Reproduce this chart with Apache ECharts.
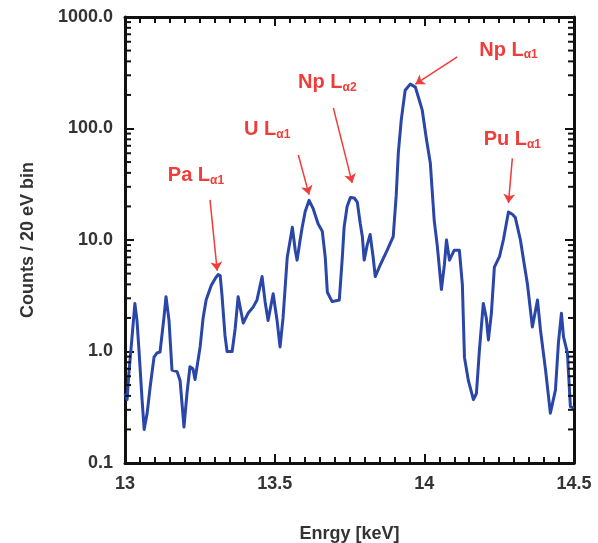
<!DOCTYPE html>
<html>
<head>
<meta charset="utf-8">
<script src="https://cdn.jsdelivr.net/npm/echarts@6/dist/echarts.min.js"></script>
<style>
  html, body { margin: 0; padding: 0; background: #fff; }
  #chart { width: 598px; height: 543px; }
</style>
</head>
<body>
<div id="chart"></div>
<script>
// Energy (keV) and counts per 20 eV bin of the L-line spectrum
const energy = [
  13.000, 13.007, 13.013, 13.023, 13.033, 13.040, 13.047, 13.057, 13.064, 13.074,
  13.084, 13.097, 13.107, 13.117, 13.130, 13.137, 13.147, 13.157, 13.174, 13.184,
  13.197, 13.207, 13.217, 13.227, 13.234, 13.251, 13.261, 13.271, 13.288, 13.301,
  13.311, 13.318, 13.324, 13.334, 13.341, 13.358, 13.368, 13.378, 13.395, 13.411,
  13.428, 13.441, 13.458, 13.468, 13.478, 13.495, 13.508, 13.518, 13.528, 13.542,
  13.552, 13.559, 13.569, 13.575, 13.585, 13.592, 13.602, 13.615, 13.629, 13.645,
  13.659, 13.669, 13.676, 13.692, 13.716, 13.726, 13.732, 13.742, 13.753, 13.766,
  13.776, 13.786, 13.793, 13.799, 13.809, 13.819, 13.829, 13.836, 13.853, 13.876,
  13.896, 13.906, 13.913, 13.923, 13.936, 13.953, 13.970, 13.983, 13.993, 14.007,
  14.020, 14.033, 14.043, 14.050, 14.057, 14.067, 14.074, 14.084, 14.100, 14.117,
  14.127, 14.134, 14.147, 14.164, 14.174, 14.184, 14.197, 14.207, 14.214, 14.224,
  14.234, 14.251, 14.264, 14.281, 14.294, 14.304, 14.321, 14.334, 14.344, 14.361,
  14.378, 14.388, 14.405, 14.421, 14.438, 14.448, 14.458, 14.465, 14.478, 14.488,
  14.500
];
const counts = [
  0.42, 0.37, 0.64, 1.3, 2.7, 1.9, 1.0, 0.37, 0.20, 0.28,
  0.48, 0.89, 0.97, 0.99, 2.0, 3.1, 1.9, 0.68, 0.66, 0.55,
  0.21, 0.42, 0.73, 0.70, 0.56, 1.1, 2.0, 2.9, 3.9, 4.5,
  4.9, 4.8, 3.2, 1.4, 1.0, 1.0, 1.6, 3.1, 1.8, 2.2,
  2.5, 2.9, 4.7, 2.8, 1.9, 3.3, 1.9, 1.1, 2.0, 7.0,
  10, 13, 8, 6.6, 10, 13, 18, 22.7, 19, 14,
  12, 7, 3.4, 2.8, 2.9, 7, 13, 20, 24, 23.8,
  21.9, 14, 10.7, 6.6, 9, 11.2, 7, 4.7, 6, 8.1,
  10.7, 25, 60, 120, 220, 250, 235, 180, 146, 80,
  49, 15, 9, 5.7, 3.6, 6, 10, 6.6, 8.1, 8.1,
  4, 0.89, 0.55, 0.37, 0.42, 1.03, 2.7, 2.0, 1.27, 2.2,
  5.7, 7.1, 10, 17.8, 17, 15.9, 10, 6, 4.1, 1.66,
  2.9, 1.56, 0.68, 0.28, 0.45, 1.2, 2.2, 1.35, 0.97, 0.32,
  0.31
];

// Peak annotations: element, line, label anchor [keV, counts], arrow tail and head
const peakNames = ['Pa', 'U', 'Np', 'Np', 'Pu'];
const peakLines = ['α1', 'α1', 'α2', 'α1', 'α1'];
const labelAt = [[13.237, 38], [13.475, 97], [13.676, 256], [14.281, 506], [14.294, 79]];
const arrowFrom = [[13.284, 22.9], [13.579, 57.9], [13.696, 153], [14.110, 438], [14.294, 54]];
const arrowTo = [[13.308, 5.3], [13.615, 25.5], [13.759, 32.5], [13.970, 250], [14.281, 21.5]];

// Axis ticks
const xMin = 13, xMax = 14.5, xStep = 0.5;
const yMin = 0.1, yMax = 1000;
const yLabels = { 0.1: '0.1', 1: '1.0', 10: '10.0', 100: '100.0', 1000: '1000.0' };

const FONT = 'Liberation Sans, Arial, Helvetica, sans-serif';
const RED = '#f03c3a';
const BLUE = '#2a46a8';
const AXIS = '#111';
const TEXT = '#333';

// log-decade minor tick values (2..9 within each decade)
const minorVals = [];
for (let d = yMin; d < yMax; d *= 10) {
  for (let k = 2; k <= 9; k++) minorVals.push(+(d * k).toPrecision(3));
}

const spectrum = energy.map((e, i) => [e, counts[i]]);

function xAxisBase() {
  return {
    type: 'value', min: xMin, max: xMax, interval: xStep,
    axisLine: { show: true, onZero: false, lineStyle: { color: AXIS, width: 3 } },
    axisTick: { show: true, inside: true, length: 9, lineStyle: { color: AXIS, width: 2 } },
    minorTick: { show: true, splitNumber: 10, length: 6, lineStyle: { color: AXIS, width: 2 } },
    splitLine: { show: false }
  };
}
function yAxisBase() {
  return {
    type: 'log', logBase: 10, min: yMin, max: yMax,
    axisLine: { show: true, onZero: false, lineStyle: { color: AXIS, width: 3 } },
    axisTick: { show: true, inside: true, length: 9, lineStyle: { color: AXIS, width: 2 } },
    splitLine: { show: false }
  };
}

const chart = echarts.init(document.getElementById('chart'));

chart.setOption({
  animation: false,
  backgroundColor: '#fff',
  grid: { left: 125, top: 17, right: 24, bottom: 80, containLabel: false, outerBoundsMode: 'none' },
  xAxis: [
    Object.assign(xAxisBase(), {
      position: 'bottom',
      name: 'Enrgy [keV]', nameLocation: 'middle', nameGap: 62,
      nameTextStyle: { fontFamily: FONT, fontWeight: 'bold', fontSize: 18, color: TEXT },
      axisLabel: {
        margin: 12, fontFamily: FONT, fontWeight: 'bold', fontSize: 18, color: TEXT,
        formatter: v => String(+v.toFixed(1))
      }
    }),
    Object.assign(xAxisBase(), { position: 'top', axisLabel: { show: false } })
  ],
  yAxis: [
    Object.assign(yAxisBase(), {
      position: 'left',
      name: 'Counts / 20 eV bin', nameLocation: 'middle', nameGap: 88,
      nameTextStyle: { fontFamily: FONT, fontWeight: 'bold', fontSize: 18, color: TEXT },
      axisLabel: {
        margin: 12, fontFamily: FONT, fontWeight: 'bold', fontSize: 18, color: TEXT,
        formatter: v => yLabels[+v.toPrecision(3)] || ''
      }
    }),
    Object.assign(yAxisBase(), { position: 'right', axisLabel: { show: false } })
  ],
  series: [
    {
      type: 'line',
      data: spectrum,
      showSymbol: false,
      smooth: false,
      lineStyle: { color: BLUE, width: 3, join: 'round' },
      z: 3,
      markLine: {
        silent: true,
        symbol: ['none', 'arrow'],
        symbolSize: [9, 9],
        label: { show: false },
        lineStyle: { color: RED, width: 1.5, type: 'solid' },
        data: arrowFrom.map((a, i) => [{ coord: a }, { coord: arrowTo[i] }])
      },
      markPoint: {
        silent: true,
        symbol: 'circle',
        symbolSize: 0,
        itemStyle: { color: 'rgba(0,0,0,0)' },
        label: {
          show: true, position: 'inside',
          rich: {
            m: { fontFamily: FONT, fontWeight: 'bold', fontSize: 20, color: RED, lineHeight: 22 },
            s: { fontFamily: FONT, fontWeight: 'bold', fontSize: 12, color: RED, lineHeight: 12, verticalAlign: 'bottom' }
          }
        },
        data: labelAt.map((c, i) => ({
          coord: c,
          label: { formatter: '{m|' + peakNames[i] + ' L}{s|' + peakLines[i] + '}' }
        }))
      }
    },
    {
      // logarithmic minor ticks on the left and right frame
      type: 'custom',
      silent: true,
      clip: false,
      data: minorVals.map(v => [xMin, v]),
      renderItem: (params, api) => {
        const v = api.value(1);
        const l = api.coord([xMin, v]);
        const r = api.coord([xMax, v]);
        return {
          type: 'group',
          children: [
            { type: 'line', shape: { x1: l[0], y1: l[1], x2: l[0] + 6, y2: l[1] }, style: { stroke: AXIS, lineWidth: 2 } },
            { type: 'line', shape: { x1: r[0], y1: r[1], x2: r[0] - 6, y2: r[1] }, style: { stroke: AXIS, lineWidth: 2 } }
          ]
        };
      },
      z: 4
    }
  ]
});
</script>
</body>
</html>
